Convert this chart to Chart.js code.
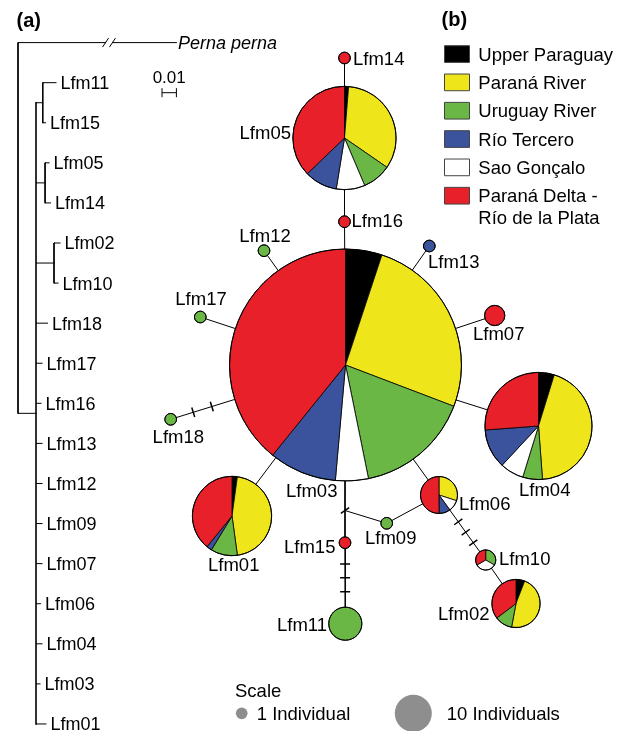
<!DOCTYPE html>
<html>
<head>
<meta charset="utf-8">
<script src="https://cdn.jsdelivr.net/npm/chart.js"></script>
<style>
  html, body { margin: 0; padding: 0; background: #fff; }
  canvas { display: block; }
</style>
</head>
<body>
<canvas id="c" width="626" height="731"></canvas>
<script>
// ---------------------------------------------------------------
// Haplotypes and number of individuals per basin
// ---------------------------------------------------------------
const haplotypes = ['Lfm01','Lfm02','Lfm03','Lfm04','Lfm05','Lfm06','Lfm07','Lfm09','Lfm10',
                    'Lfm11','Lfm12','Lfm13','Lfm14','Lfm15','Lfm16','Lfm17','Lfm18'];
const regions = ['Upper Paraguay', 'Paraná River', 'Uruguay River', 'Río Tercero',
                 'Sao Gonçalo', 'Paraná Delta - Río de la Plata'];

//                     01  02   03  04  05 06 07 09 10 11 12 13 14 15 16 17 18
const upperParaguay = [ 1,  1,  20,  4,  1, 0, 0, 0, 0, 0, 0, 0, 0, 0, 0, 0, 0];
const paranaRiver   = [21,  8, 101, 37, 26, 3, 0, 0, 0, 0, 0, 0, 0, 0, 0, 0, 0];
const uruguayRiver  = [ 5,  2,  63,  5,  7, 0, 0, 1, 1, 8, 1, 0, 0, 0, 0, 1, 1];
const rioTercero    = [ 1,  0,  37, 10,  8, 1, 0, 0, 0, 0, 0, 1, 0, 0, 0, 0, 0];
const saoGoncalo    = [ 0,  0,  18,  6,  7, 1, 0, 0, 1, 0, 0, 0, 0, 0, 0, 0, 0];
const paranaDelta   = [18,  6, 154, 22, 29, 5, 3, 0, 1, 0, 0, 0, 1, 1, 1, 0, 0];

// Scale legend
const scaleCounts = [1, 10];
const scaleLabels = ['1 Individual', '10 Individuals'];

// Haplotype network connections and mutational steps along them
const networkEdges = [
  ['Lfm14','Lfm05'], ['Lfm05','Lfm16'], ['Lfm16','Lfm03'],
  ['Lfm03','Lfm12'], ['Lfm03','Lfm17'], ['Lfm03','Lfm18'],
  ['Lfm03','Lfm13'], ['Lfm03','Lfm07'], ['Lfm03','Lfm04'],
  ['Lfm03','Lfm01'], ['Lfm03','Lfm06'], ['Lfm03','mv1'],
  ['mv1','Lfm15'],   ['mv1','Lfm09'],   ['Lfm09','Lfm06'],
  ['Lfm15','Lfm11'], ['Lfm06','Lfm10'], ['Lfm10','Lfm02']
];
const mutationSteps = [
  { from: 'Lfm18', to: 'Lfm03', at: [0.129, 0.235] },
  { from: 'Lfm15', to: 'Lfm11', at: [0.263, 0.432, 0.605] },
  { from: 'Lfm06', to: 'Lfm10', at: [0.413, 0.572, 0.734] },
  { from: 'mv1',   to: 'Lfm03', at: [0], tilt: -34.5 }
];

// Neighbour-joining tree of the haplotypes (branch lengths in substitutions/site;
// the outgroup branch is shown truncated)
const treeNewick =
  '(Perna_perna:0.11,((Lfm11:0.0092,Lfm15:0.0019):0.0047,(Lfm05:0.0028,Lfm14:0.0038):0.0063,' +
  '(Lfm02:0.0042,Lfm10:0.0028):0.0125,Lfm18:0.008,Lfm17:0.0042,Lfm16:0.0035,Lfm13:0.0042,' +
  'Lfm12:0.0042,Lfm09:0.0042,Lfm07:0.0042,Lfm06:0.0031,Lfm04:0.0042,Lfm03:0.0028,' +
  'Lfm01:0.0069):0.0125);';
const scaleBarLength = 0.01;
const scaleBarLabel = '0.01';

// ---------------------------------------------------------------
// Styling and layout
// ---------------------------------------------------------------
const FONT = "'Liberation Sans', Arial, Helvetica, sans-serif";
const regionColors = ['#000000', '#efe51b', '#6bb745', '#3a539c', '#ffffff', '#e7202a'];
const sliceOrder = [0, 1, 2, 4, 3, 5];           // clockwise order of basins inside a pie
const unitRadius = 5.85;                         // radius of a one-individual circle
const scaleGrey = '#8e8e8e';

// node centres of the network (frame units)
const nodePos = {
  Lfm01: [232, 516],   Lfm02: [516, 603.5], Lfm03: [345.5, 365], Lfm04: [538.5, 426],
  Lfm05: [344.5, 138], Lfm06: [439, 495],   Lfm07: [494.7, 315.5], Lfm09: [386.7, 523.3],
  Lfm10: [485.7, 560], Lfm11: [345.3, 623.7], Lfm12: [264, 250.7], Lfm13: [429.3, 246],
  Lfm14: [344.5, 58],  Lfm15: [345, 542.7], Lfm16: [344.5, 221.7], Lfm17: [200.3, 317],
  Lfm18: [170.7, 419.3], mv1: [345, 510.5]
};
// label anchors: [align, x, cap-centre y]
const nodeLabels = {
  Lfm14: ['left', 353, 58.5],   Lfm05: ['right', 291, 132],  Lfm16: ['left', 351.5, 220.5],
  Lfm12: ['center', 265, 235],  Lfm17: ['center', 201, 298.5], Lfm18: ['center', 178.3, 436.7],
  Lfm13: ['left', 428, 261.7],  Lfm07: ['left', 473, 333.7], Lfm04: ['left', 519, 489.2],
  Lfm06: ['left', 459, 503.3],  Lfm10: ['left', 499, 558.3], Lfm02: ['right', 489.5, 613.3],
  Lfm03: ['left', 286, 490.8],  Lfm01: ['left', 208, 564.5], Lfm15: ['left', 284, 546.7],
  Lfm09: ['left', 365, 537.7],  Lfm11: ['right', 327, 624]
};

// tree frame: 1440 px per substitution/site, 40.08 px per row
const treePxPerUnit = 1440, treeRowPx = 40.08, treeLeft = 18, treeTop = 42.6;
const outgroupBreak = [0.0608, 0.0656];

// ---------------------------------------------------------------
// Tree parsing and layout
// ---------------------------------------------------------------
function parseNewick(s) {
  let i = 0;
  function node() {
    const n = { children: [] };
    if (s[i] === '(') {
      i++;
      n.children.push(node());
      while (s[i] === ',') { i++; n.children.push(node()); }
      i++;
    }
    let name = '';
    while (i < s.length && !':,);'.includes(s[i])) name += s[i++];
    n.name = name.replace(/_/g, ' ');
    n.len = 0;
    if (s[i] === ':') {
      i++;
      let num = '';
      while (i < s.length && !',);'.includes(s[i])) num += s[i++];
      n.len = parseFloat(num);
    }
    return n;
  }
  return node();
}
const tree = parseNewick(treeNewick);
let leafRow = 0;
const leaves = [];
(function layout(n, x0) {
  n.x = x0 + n.len;
  if (!n.children.length) { n.y = leafRow++; leaves.push(n); return; }
  n.children.forEach(c => layout(c, n.x));
  n.y = (n.children[0].y + n.children[n.children.length - 1].y) / 2;
})(tree, 0);

const treeSegments = [];
(function collect(n, depth) {
  if (!n.children.length) return;
  const first = n.children[0], last = n.children[n.children.length - 1];
  treeSegments.push({ pts: [[n.x, first.y], [n.x, last.y]], w: depth === 1 ? 1.6 : 1 });
  n.children.forEach(c => {
    if (c.name === 'Perna perna') {
      treeSegments.push({ pts: [[n.x, c.y], [outgroupBreak[0], c.y]], w: 1 });
      treeSegments.push({ pts: [[outgroupBreak[1], c.y], [c.x, c.y]], w: 1 });
    } else {
      treeSegments.push({ pts: [[n.x, c.y], [c.x, c.y]], w: 1 });
    }
    collect(c, depth + 1);
  });
})(tree, 0);

// ---------------------------------------------------------------
// Datasets: network edges and tree branches as line segments
// ---------------------------------------------------------------
const datasets = [];
networkEdges.forEach(([a, b]) => datasets.push({
  data: [{ x: nodePos[a][0], y: nodePos[a][1] }, { x: nodePos[b][0], y: nodePos[b][1] }],
  showLine: true, borderColor: '#000', borderWidth: 1, pointRadius: 0,
  xAxisID: 'x', yAxisID: 'y'
}));
treeSegments.forEach(seg => datasets.push({
  data: seg.pts.map(p => ({ x: p[0], y: p[1] })),
  showLine: true, borderColor: '#000', borderWidth: seg.w, pointRadius: 0,
  borderCapStyle: 'square', xAxisID: 'tx', yAxisID: 'ty'
}));

// ---------------------------------------------------------------
// Drawing helpers
// ---------------------------------------------------------------
function drawText(ctx, str, x, capY, align, size, style) {
  ctx.font = (style ? style + ' ' : '') + size + 'px ' + FONT;
  ctx.textAlign = align;
  ctx.textBaseline = 'alphabetic';
  ctx.fillStyle = '#000';
  ctx.fillText(str, x, capY + 0.358 * size);
}

const networkPlugin = {
  id: 'network',
  afterDatasetsDraw(chart) {
    const ctx = chart.ctx;
    const sx = chart.scales.x, sy = chart.scales.y, tx = chart.scales.tx, ty = chart.scales.ty;
    const X = v => sx.getPixelForValue(v), Y = v => sy.getPixelForValue(v);
    const R = r => X(r) - X(0);
    const counts = [upperParaguay, paranaRiver, uruguayRiver, rioTercero, saoGoncalo, paranaDelta];

    ctx.save();
    // ---- pies
    haplotypes.forEach((h, i) => {
      const vals = counts.map(arr => arr[i]);
      const total = vals.reduce((a, b) => a + b, 0);
      const cx = X(nodePos[h][0]), cy = Y(nodePos[h][1]);
      const r = R(unitRadius * Math.sqrt(total));
      const nonzero = vals.filter(v => v > 0).length;
      let a0 = -Math.PI / 2;
      ctx.lineJoin = 'round';
      sliceOrder.forEach(k => {
        if (!vals[k]) return;
        const a1 = a0 + vals[k] / total * Math.PI * 2;
        ctx.beginPath();
        if (nonzero > 1) { ctx.moveTo(cx, cy); ctx.arc(cx, cy, r, a0, a1); ctx.closePath(); }
        else ctx.arc(cx, cy, r, 0, Math.PI * 2);
        ctx.fillStyle = regionColors[k];
        ctx.fill();
        ctx.strokeStyle = '#000';
        ctx.lineWidth = 0.8;
        ctx.stroke();
        a0 = a1;
      });
      ctx.beginPath();
      ctx.arc(cx, cy, r, 0, Math.PI * 2);
      ctx.lineWidth = 1;
      ctx.strokeStyle = '#000';
      ctx.stroke();
    });

    // ---- mutational steps
    ctx.strokeStyle = '#000';
    ctx.lineWidth = 1.5;
    ctx.lineCap = 'butt';
    mutationSteps.forEach(m => {
      const ax = X(nodePos[m.from][0]), ay = Y(nodePos[m.from][1]);
      const bx = X(nodePos[m.to][0]), by = Y(nodePos[m.to][1]);
      const len = Math.hypot(bx - ax, by - ay);
      const dx = (bx - ax) / len, dy = (by - ay) / len;
      let px = -dy, py = dx;
      if (m.tilt) {
        const t = m.tilt * Math.PI / 180;
        const qx = px * Math.cos(t) - py * Math.sin(t);
        const qy = px * Math.sin(t) + py * Math.cos(t);
        px = qx; py = qy;
      }
      m.at.forEach(t => {
        const mx = ax + (bx - ax) * t, my = ay + (by - ay) * t;
        ctx.beginPath();
        ctx.moveTo(mx - px * 5, my - py * 5);
        ctx.lineTo(mx + px * 5, my + py * 5);
        ctx.stroke();
      });
    });

    // ---- network labels
    Object.keys(nodeLabels).forEach(h => {
      const [al, lx, ly] = nodeLabels[h];
      drawText(ctx, h, X(lx), Y(ly), al, 18.5);
    });

    // ---- tree labels
    leaves.forEach(l => {
      const isOut = l.name === 'Perna perna';
      drawText(ctx, l.name, tx.getPixelForValue(l.x) + (isOut ? 1.5 : 4.5), ty.getPixelForValue(l.y),
               'left', 18, isOut ? 'italic' : '');
    });
    // outgroup break marks
    const oy = ty.getPixelForValue(leaves[0].y);
    ctx.lineWidth = 1;
    outgroupBreak.forEach(b => {
      const bx = tx.getPixelForValue(b);
      ctx.beginPath();
      ctx.moveTo(bx - 3, oy + 4.5);
      ctx.lineTo(bx + 3, oy - 4.5);
      ctx.stroke();
    });
    // scale bar
    const sb0 = tx.getPixelForValue(0.1), sb1 = tx.getPixelForValue(0.1 + scaleBarLength);
    const sbY = ty.getPixelForValue(1.25);
    ctx.beginPath();
    ctx.moveTo(sb0, sbY); ctx.lineTo(sb1, sbY);
    ctx.moveTo(sb0, sbY - 4.5); ctx.lineTo(sb0, sbY + 4.5);
    ctx.moveTo(sb1, sbY - 4.5); ctx.lineTo(sb1, sbY + 4.5);
    ctx.stroke();
    drawText(ctx, scaleBarLabel, (sb0 + sb1) / 2, ty.getPixelForValue(0.85), 'center', 17);

    // ---- panel letters
    drawText(ctx, '(a)', X(16.5), Y(20.3), 'left', 20, 'bold');
    drawText(ctx, '(b)', X(441.5), Y(18.8), 'left', 20, 'bold');

    // ---- basin legend
    regions.forEach((name, k) => {
      const top = Y(45.7 + 28.33 * k);
      ctx.fillStyle = regionColors[k];
      ctx.fillRect(X(444.5), top, R(25), R(16.7));
      ctx.strokeStyle = '#444';
      ctx.lineWidth = 1;
      ctx.strokeRect(X(444.5), top, R(25), R(16.7));
      const parts = name === 'Paraná Delta - Río de la Plata' ? ['Paraná Delta -', 'Río de la Plata'] : [name];
      parts.forEach((p, j) => drawText(ctx, p, X(478.3), Y(54 + 28.33 * k + 21.4 * j), 'left', 18.5));
    });

    // ---- size scale
    drawText(ctx, 'Scale', X(235), Y(690.3), 'left', 18.5);
    const scaleX = [241.7, 413.3], scaleTextX = [256.7, 446.7];
    scaleCounts.forEach((n, k) => {
      ctx.beginPath();
      ctx.arc(X(scaleX[k]), Y(713.3), R(unitRadius * Math.sqrt(n)), 0, Math.PI * 2);
      ctx.fillStyle = scaleGrey;
      ctx.fill();
      drawText(ctx, scaleLabels[k], X(scaleTextX[k]), Y(713.5), 'left', 18.5);
    });
    ctx.restore();
  }
};

new Chart(document.getElementById('c'), {
  type: 'scatter',
  data: { datasets },
  options: {
    responsive: false,
    devicePixelRatio: 1,
    animation: false,
    events: [],
    layout: { padding: 0 },
    plugins: { legend: { display: false }, tooltip: { enabled: false } },
    scales: {
      x:  { type: 'linear', min: 0, max: 626, display: false },
      y:  { type: 'linear', min: 0, max: 731, reverse: true, display: false },
      tx: { type: 'linear', axis: 'x', display: false,
            min: -treeLeft / treePxPerUnit, max: (626 - treeLeft) / treePxPerUnit },
      ty: { type: 'linear', axis: 'y', reverse: true, display: false,
            min: -treeTop / treeRowPx, max: (731 - treeTop) / treeRowPx }
    }
  },
  plugins: [networkPlugin]
});
</script>
</body>
</html>
